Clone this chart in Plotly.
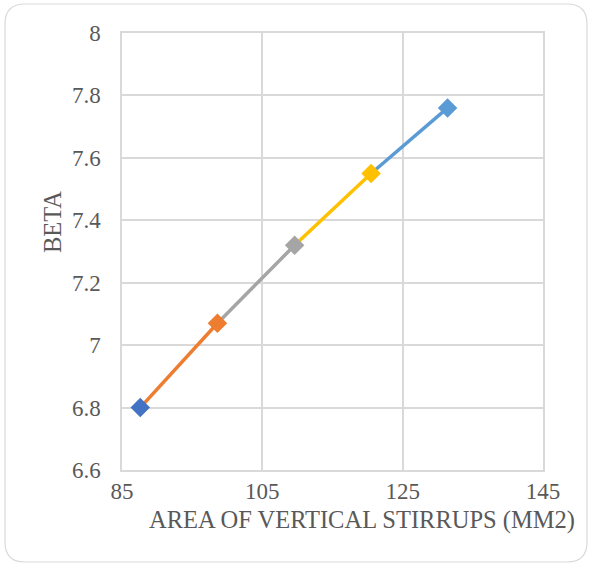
import plotly.graph_objects as go

# Data
area = [87.6, 98.6, 109.6, 120.5, 131.4]
beta = [6.80, 7.07, 7.32, 7.55, 7.76]
seg_colors = ["#ED7D31", "#A5A5A5", "#FFC000", "#5B9BD5"]
marker_colors = ["#4472C4", "#ED7D31", "#A5A5A5", "#FFC000", "#5B9BD5"]
x_ticks = [85, 105, 125, 145]
y_ticks = [6.6, 6.8, 7.0, 7.2, 7.4, 7.6, 7.8, 8.0]
y_tick_text = ["6.6", "6.8", "7", "7.2", "7.4", "7.6", "7.8", "8"]

W, H = 590, 565
ML, MR, MT, MB = 122, 47, 33, 95
PW, PH = W - ML - MR, H - MT - MB

def px(x):
    return (x - ML) / PW

def py(y):
    return (H - MB - y) / PH

fig = go.Figure()
for i in range(len(seg_colors)):
    fig.add_trace(go.Scatter(
        x=area[i:i + 2], y=beta[i:i + 2], mode="lines",
        line=dict(color=seg_colors[i], width=3.5), showlegend=False,
        hoverinfo="skip"))
fig.add_trace(go.Scatter(
    x=area, y=beta, mode="markers",
    marker=dict(symbol="diamond", size=15, color=marker_colors,
                line=dict(width=0)),
    showlegend=False))

tick_font = dict(family="Liberation Serif", size=23, color="#595959")
title_font = dict(family="Liberation Serif", size=24.5, color="#595959")

# rounded outer border
x0, x1, y0, y1, r = 5, 587, 4, 562, 20
path = (
    f"M {px(x0 + r)},{py(y0)} L {px(x1 - r)},{py(y0)} "
    f"Q {px(x1)},{py(y0)} {px(x1)},{py(y0 + r)} "
    f"L {px(x1)},{py(y1 - r)} Q {px(x1)},{py(y1)} {px(x1 - r)},{py(y1)} "
    f"L {px(x0 + r)},{py(y1)} Q {px(x0)},{py(y1)} {px(x0)},{py(y1 - r)} "
    f"L {px(x0)},{py(y0 + r)} Q {px(x0)},{py(y0)} {px(x0 + r)},{py(y0)} Z"
)

fig.update_layout(
    width=W, height=H,
    margin=dict(l=ML, r=MR, t=MT, b=MB),
    paper_bgcolor="white", plot_bgcolor="white",
    font=tick_font,
    shapes=[dict(type="path", path=path, xref="paper", yref="paper",
                 line=dict(color="#D9D9D9", width=1.2), layer="below")],
    annotations=[
        dict(text="AREA OF VERTICAL STIRRUPS (MM2)", xref="paper", yref="paper",
             x=px(362), y=py(520), showarrow=False, font=title_font,
             xanchor="center", yanchor="middle"),
        dict(text="BETA", xref="paper", yref="paper", textangle=-90,
             x=px(52), y=py(222), showarrow=False, font=title_font,
             xanchor="center", yanchor="middle"),
    ],
    xaxis=dict(range=[85, 145], tickmode="array", tickvals=x_ticks,
               ticktext=[str(v) for v in x_ticks], showgrid=True,
               gridcolor="#D9D9D9", gridwidth=1.5, zeroline=False,
               showline=True, linecolor="#D9D9D9", linewidth=1.5, mirror=True,
               ticks="", tickfont=tick_font),
    yaxis=dict(range=[6.6, 8.0], tickmode="array", tickvals=y_ticks,
               ticktext=y_tick_text,
               showgrid=True, gridcolor="#D9D9D9", gridwidth=1.5, zeroline=False,
               showline=True, linecolor="#D9D9D9", linewidth=1.5, mirror=True,
               ticks="outside", ticklen=15, tickcolor="rgba(0,0,0,0)",
               tickfont=tick_font),
)

fig.write_html("out.html")
